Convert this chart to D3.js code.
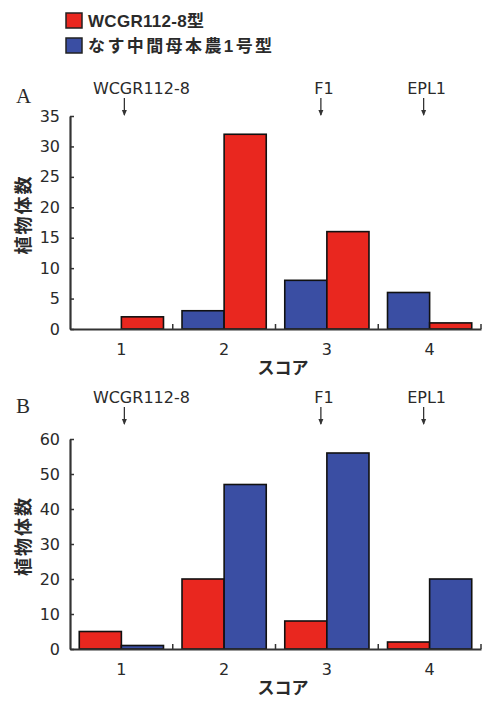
<!DOCTYPE html>
<html><head><meta charset="utf-8">
<script src="https://cdn.jsdelivr.net/npm/d3@7"></script>
<style>
body{margin:0;background:#fff;}
text{font-family:"DejaVu Sans","Noto Sans CJK JP",sans-serif;fill:#2a2a2a;}
</style></head>
<body>
<svg id="c" width="483" height="702"></svg>
<script>
const categories = ["1","2","3","4"];
const seriesNames = ["WCGR112-8型","なす中間母本農1号型"];
const seriesColors = ["#e9271f","#3a4ea3"];
// Panel A
const aRed = [2, 32, 16, 1];
const aBlue = [0, 3, 8, 6];
const aTicks = [0,5,10,15,20,25,30,35];
// Panel B
const bRed = [5, 20, 8, 2];
const bBlue = [1, 47, 56, 20];
const bTicks = [0,10,20,30,40,50,60];
const markers = [{label:"WCGR112-8", cat:"1"},{label:"F1", cat:"3"},{label:"EPL1", cat:"4"}];

const svg = d3.select("#c");

// legend
seriesNames.forEach((n,i)=>{
  const g = svg.append("g").attr("transform",`translate(66,${13+i*25})`);
  g.append("rect").attr("width",16).attr("height",15).attr("fill",seriesColors[i]).attr("stroke","#222").attr("stroke-width",1.5);
  g.append("text").attr("x",22).attr("y",8).attr("dy","0.36em").attr("font-size",17)
    .attr("font-weight","bold")
    .style("font-family","'Liberation Sans','Noto Sans CJK JP',sans-serif")
    .attr("letter-spacing", i===1 ? 2.4 : 0.3).text(n);
});

function panel(opts){
  const {letter, yTop, y0, yMax, ticks, series, letterY, markerY} = opts;
  const x0 = d3.scaleBand().domain(categories).range([70,481]).padding(0);
  const x1 = d3.scaleBand().domain(series.map(s=>s.key)).range([0,x0.bandwidth()]).paddingInner(0).paddingOuter(0.22);
  const y = d3.scaleLinear().domain([0,yMax]).range([y0,yTop]);
  const g = svg.append("g");

  // panel letter
  g.append("text").attr("x",16).attr("y",letterY).attr("dy","0.36em")
    .style("font-family","'Liberation Serif',serif").attr("font-size",21).text(letter);
  // markers
  markers.forEach((m,i)=>{
    const cx = x0(m.cat)+x0.bandwidth()/2 + (i===0 ? 3 : -6);
    g.append("text").attr("x",cx + (i===0 ? 17 : 3)).attr("y",markerY).attr("dy","0.36em")
      .attr("text-anchor","middle").attr("font-size",16).text(m.label);
    g.append("line").attr("x1",cx).attr("x2",cx).attr("y1",markerY+10).attr("y2",markerY+27)
      .attr("stroke","#333").attr("stroke-width",1.3);
    g.append("path").attr("d",`M${cx-2.5},${markerY+22}L${cx},${markerY+28}L${cx+2.5},${markerY+22}Z`)
      .attr("fill","#333");
  });

  // bars
  categories.forEach((c,ci)=>{
    series.forEach(s=>{
      const v = s.values[ci];
      if(v<=0) return;
      g.append("rect")
        .attr("x",x0(c)+x1(s.key)).attr("width",x1.bandwidth())
        .attr("y",y(v)).attr("height",y0-y(v))
        .attr("fill",s.color).attr("stroke","#111").attr("stroke-width",1.6);
    });
  });

  // y axis
  const ya = g.append("g").attr("transform","translate(70,0)")
    .call(d3.axisLeft(y).tickValues(ticks).tickSize(-4).tickPadding(10).tickSizeOuter(0));
  ya.select(".domain").attr("stroke","#333").attr("stroke-width",2.2);
  ya.selectAll(".tick line").attr("stroke","#333").attr("stroke-width",1.5);
  ya.selectAll(".tick text").attr("font-size",16).style("fill","#2a2a2a")
    .style("font-family","'DejaVu Sans',sans-serif");

  // x axis labels
  const xa = g.append("g").attr("transform",`translate(0,${y0})`)
    .call(d3.axisBottom(x0).tickSize(0).tickPadding(15));
  xa.select(".domain").attr("stroke","#333").attr("stroke-width",2.2);
  xa.selectAll(".tick text").attr("font-size",16).style("fill","#2a2a2a")
    .style("font-family","'DejaVu Sans',sans-serif");
  // boundary ticks
  categories.forEach(c=>{
    const bx = x0(c)+x0.bandwidth();
    g.append("line").attr("x1",bx).attr("x2",bx).attr("y1",y0).attr("y2",y0-5).attr("stroke","#333").attr("stroke-width",1.5);
  });

  // axis titles
  g.append("text").attr("transform",`translate(24,${(y0+yTop)/2-8}) rotate(-90)`)
    .attr("text-anchor","middle").attr("dy","0.36em").attr("font-size",18).attr("font-weight","bold")
    .attr("letter-spacing",2).text("植物体数");
  g.append("text").attr("x",283).attr("y",y0+39).attr("dy","0.36em").attr("text-anchor","middle")
    .attr("font-size",17).attr("font-weight","bold").text("スコア");
}

panel({letter:"A", yTop:116, y0:329, yMax:35, ticks:aTicks, letterY:95, markerY:88,
  series:[{key:"blue",values:aBlue,color:seriesColors[1]},{key:"red",values:aRed,color:seriesColors[0]}]});
panel({letter:"B", yTop:439, y0:649, yMax:60, ticks:bTicks, letterY:405, markerY:397,
  series:[{key:"red",values:bRed,color:seriesColors[0]},{key:"blue",values:bBlue,color:seriesColors[1]}]});
</script>
</body></html>
